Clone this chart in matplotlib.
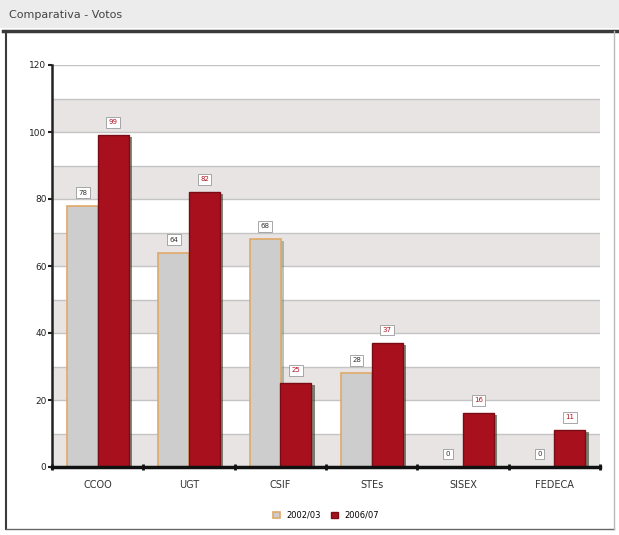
import matplotlib.pyplot as plt
import numpy as np
from matplotlib.patches import Rectangle

plt.rcParams['font.family'] = ['DejaVu Sans']

categories = ['CCOO', 'UGT', 'CSIF', 'STEs', 'SISEX', 'FEDECA']
votos_0203 = [78, 64, 68, 28, 0, 0]
votos_0607 = [99, 82, 25, 37, 16, 11]
series_names = ['2002/03', '2006/07']

fig = plt.figure(figsize=(6.19, 5.35), dpi=100)

# title bar + frame
fig.patches.append(Rectangle((0, 1 - 28/535), 1, 28/535, transform=fig.transFigure,
                             facecolor='#ececec', edgecolor='none', zorder=0))
fig.lines.append(plt.Line2D([0.005, 1], [1 - 31/535, 1 - 31/535], transform=fig.transFigure,
                            color='#3a3a3a', linewidth=2.5))
fig.lines.append(plt.Line2D([6/619, 6/619], [1 - 31/535, 6/535], transform=fig.transFigure,
                            color='#3a3a3a', linewidth=1.5))
fig.lines.append(plt.Line2D([6/619, 614/619], [6/535, 6/535], transform=fig.transFigure,
                            color='#666666', linewidth=1))
fig.lines.append(plt.Line2D([614/619, 614/619], [6/535, 1 - 31/535], transform=fig.transFigure,
                            color='#bbbbbb', linewidth=1))
fig.text(9/619, 1 - 15/535, 'Comparativa - Votos', fontsize=8, color='#444444', va='center')

ax = fig.add_axes([52/619, 1 - 467/535, 548/619, 402/535])
x = np.arange(len(categories))

# alternating bands
for lo in range(0, 120, 20):
    ax.axhspan(lo, lo + 10, color='#e8e4e4', zorder=0, linewidth=0)
for yv in range(10, 121, 10):
    ax.axhline(yv, color='#c4c4c4', linewidth=1, zorder=0.5)

w = 0.34
off_g = 0.165 - 0.5 + w / 2
off_r = 0.5 - 0.5 + w / 2
# shadows
ax.bar(x + off_g + 0.035, votos_0203, w, bottom=-0.6, color='#556b4a', alpha=0.4, zorder=1, linewidth=0)
ax.bar(x + off_r + 0.035, votos_0607, w, bottom=-0.6, color='#2e3a22', alpha=0.6, zorder=1, linewidth=0)
ax.bar(x + off_g, votos_0203, w, color='#cdcdcd', edgecolor='#e0a868', linewidth=1.2, zorder=2,
       label=series_names[0])
ax.bar(x + off_r, votos_0607, w, color='#a8101e', edgecolor='#7a0c16', linewidth=1, zorder=2,
       label=series_names[1])

box = dict(boxstyle='square,pad=0.35', facecolor='white', edgecolor='#999999', linewidth=0.6)
for i in range(len(categories)):
    ax.text(x[i] + off_g, votos_0203[i] + 3, str(votos_0203[i]), ha='center', va='bottom',
            fontsize=5, color='#333333', bbox=box, zorder=3)
    ax.text(x[i] + off_r, votos_0607[i] + 3, str(votos_0607[i]), ha='center', va='bottom',
            fontsize=5, color='#b0101e', bbox=box, zorder=3)

ax.set_xlim(-0.5, len(categories) - 0.5)
ax.set_ylim(0, 120)
ax.set_yticks(range(0, 121, 20))
ax.tick_params(axis='y', labelsize=6.5, length=3, width=1.5, pad=1, colors='#222222')
ax.set_xticks(x)
ax.set_xticklabels(categories, fontsize=7, color='#333333')
ax.set_xticks(np.arange(-0.5, len(categories)), minor=True)
ax.tick_params(axis='x', which='major', length=0, pad=9)
ax.tick_params(axis='x', which='minor', length=5, width=2, direction='inout', colors='#111111')
for s in ['top', 'right']:
    ax.spines[s].set_visible(False)
ax.spines['left'].set_linewidth(1.8)
ax.spines['bottom'].set_linewidth(2.5)
ax.spines['left'].set_color('#222222')
ax.spines['bottom'].set_color('#111111')

ax.legend(loc='upper center', bbox_to_anchor=(0.5, -0.09), ncol=2, frameon=False,
          fontsize=6, handlelength=0.8, handleheight=0.8, columnspacing=1.2)

plt.savefig('out.png', dpi=100)
